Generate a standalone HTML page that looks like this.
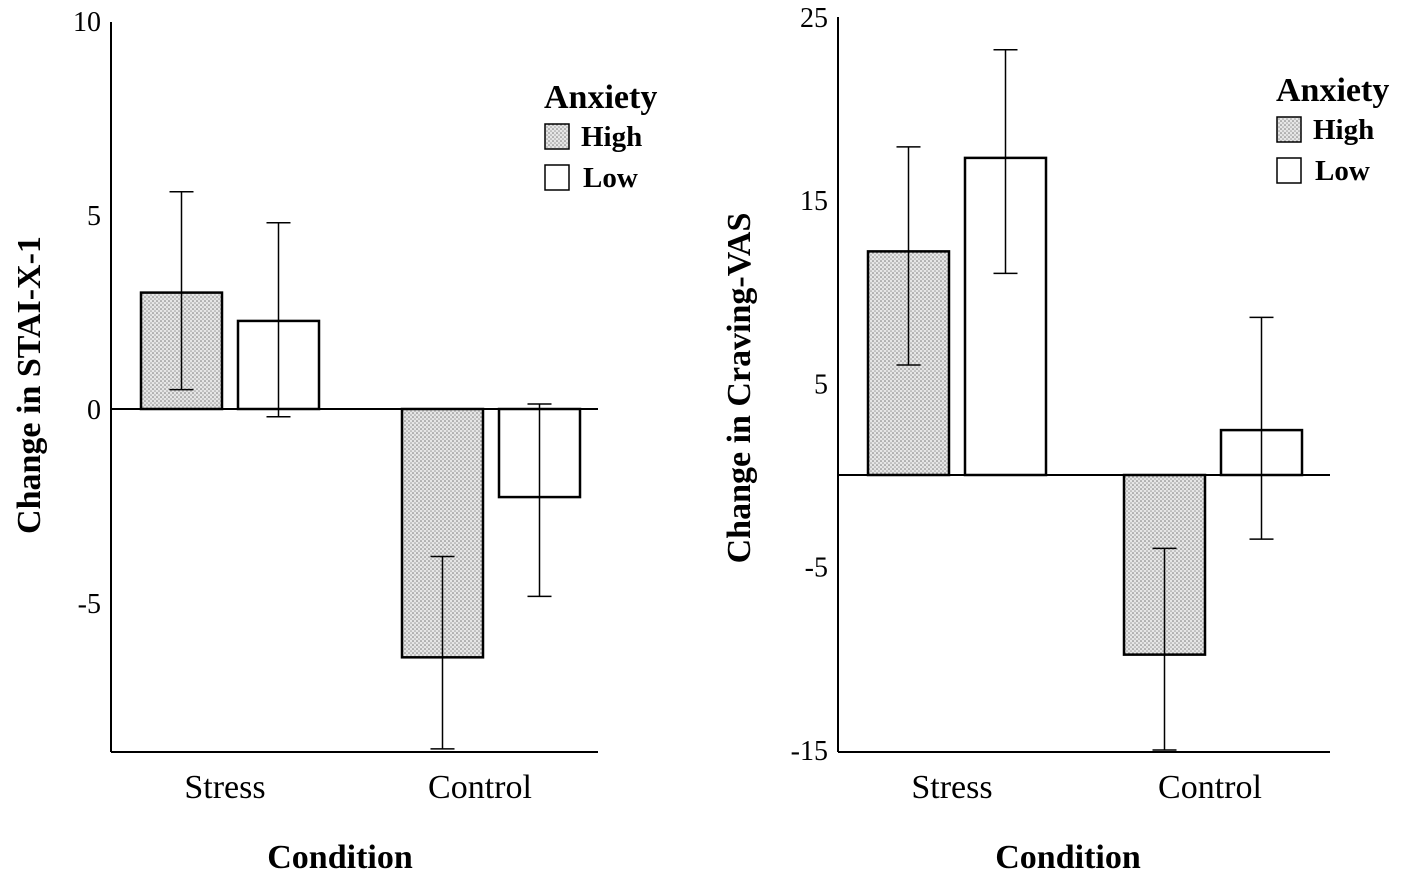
<!DOCTYPE html>
<html><head><meta charset="utf-8"><style>
body{margin:0;background:#fff;}
svg{display:block;font-family:"Liberation Serif",serif;}
</style></head><body>
<svg id="chart" width="1417" height="879" viewBox="0 0 1417 879" xmlns="http://www.w3.org/2000/svg">
<defs>
<pattern id="dots" width="4" height="4" patternUnits="userSpaceOnUse">
<rect width="4" height="4" fill="#e6e6e6"/>
<circle cx="1" cy="1" r="0.8" fill="#777"/>
<circle cx="3" cy="3" r="0.8" fill="#999"/>
</pattern>
</defs>
</svg>
<script>
const categories = ["Stress","Control"];
const groups = ["High","Low"];
// Left panel: Change in STAI-X-1
const staiMeans = [[3.0,2.27],[-6.4,-2.27]];
const staiUpper = [[5.6,4.8],[-3.8,0.13]];
const staiLower = [[0.5,-0.2],[-8.76,-4.83]];
const staiTicks = [10,5,0,-5];
// Right panel: Change in Craving-VAS
const vasMeans = [[12.2,17.3],[-9.8,2.45]];
const vasUpper = [[17.9,23.2],[-4.0,8.6]];
const vasLower = [[6.0,11.0],[-15.0,-3.5]];
const vasTicks = [25,15,5,-5,-15];

const svg = document.getElementById('chart');
const NS = "http://www.w3.org/2000/svg";
function el(tag, attrs, parent){const e=document.createElementNS(NS,tag);for(const k in attrs)e.setAttribute(k,attrs[k]);(parent||svg).appendChild(e);return e;}
function txt(s, attrs, parent){const t=el('text',attrs,parent);t.textContent=s;return t;}

function panel(cfg){
  const g = el('g',{});
  
  
  const y = v => cfg.zeroY - v*cfg.ppu;
  const ya = el('line',{x1:cfg.axisX,y1:cfg.top,x2:cfg.axisX,y2:cfg.bottom,stroke:'#000','stroke-width':2},g);
  
  
  const xa = el('line',{x1:cfg.axisX,y1:cfg.bottom,x2:cfg.axisEnd,y2:cfg.bottom,stroke:'#000','stroke-width':2},g);
  
  
  cfg.ticks.forEach(t=>{
    const l = txt(String(t),{x:cfg.axisX-10,y:y(t)+10,'text-anchor':'end','font-size':28},g);
    
    
  });
  cfg.means.forEach((row,ci)=>{
    row.forEach((m,gi)=>{
      const x = cfg.barX[ci] + gi*cfg.gap;
      const y0 = y(0), y1 = y(m);
      const r = el('rect',{x:x,y:Math.min(y0,y1),width:cfg.barW,height:Math.abs(y1-y0),fill:gi===0?'url(#dots)':'#fff',stroke:'#000','stroke-width':2.5},g);
      
      
      const cx = x + cfg.barW/2;
      const eb = el('path',{d:`M${cx} ${y(cfg.upper[ci][gi])}V${y(cfg.lower[ci][gi])}M${cx-12} ${y(cfg.upper[ci][gi])}H${cx+12}M${cx-12} ${y(cfg.lower[ci][gi])}H${cx+12}`,stroke:'#000','stroke-width':1.5,fill:'none'},g);
      
      
    });
    const lbl = txt(categories[ci],{x:cfg.catX[ci],y:798,'text-anchor':'middle','font-size':34},g);
    
    
  });
  const zl = el('line',{x1:cfg.axisX,y1:y(0),x2:cfg.axisEnd,y2:y(0),stroke:'#000','stroke-width':2},g);
  
  
  const yt = txt(cfg.yTitle,{x:0,y:0,'text-anchor':'middle','font-size':34,'font-weight':'bold',transform:`translate(${cfg.yTitleX},${cfg.yTitleY}) rotate(-90)`},g);
  
  
  const xt = txt('Condition',{x:cfg.xTitleX,y:868,'text-anchor':'middle','font-size':34,'font-weight':'bold'},g);
  
  
  const lg = el('g',{},g);
  
  
  const lt = txt('Anxiety',{x:cfg.legX,y:cfg.legY,'font-size':34,'font-weight':'bold'},lg);
  
  
  groups.forEach((gname,gi)=>{
    const by = cfg.legY+16+gi*41;
    const b = el('rect',{x:cfg.legX+1,y:by,width:24,height:25,fill:gi===0?'url(#dots)':'#fff',stroke:'#000','stroke-width':1.5},lg);
    
    
    const t = txt(gname,{x:cfg.legX+37+(gi?2:0),y:by+22,'font-size':29,'font-weight':'bold'},lg);
    
    
  });
}

panel({name:'stai-panel',axisX:111,axisEnd:598,top:22,bottom:752,zeroY:409,ppu:38.8,ticks:staiTicks,
  means:staiMeans,upper:staiUpper,lower:staiLower,barX:[141,402],gap:97,barW:81,catX:[225,480],
  yTitle:'Change in STAI-X-1',yTitleX:40,yTitleY:385,xTitleX:340,legX:544,legY:108});
panel({name:'craving-panel',axisX:838,axisEnd:1330,top:17,bottom:752,zeroY:475,ppu:18.33,ticks:vasTicks,
  means:vasMeans,upper:vasUpper,lower:vasLower,barX:[868,1124],gap:97,barW:81,catX:[952,1210],
  yTitle:'Change in Craving-VAS',yTitleX:750,yTitleY:388,xTitleX:1068,legX:1276,legY:101});
</script>
</body></html>
